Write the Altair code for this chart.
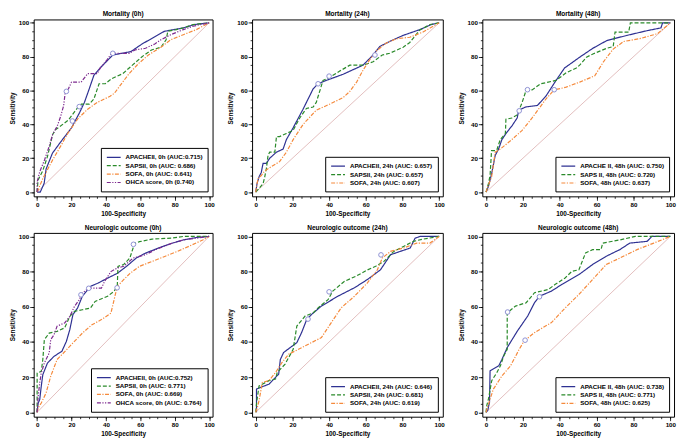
import altair as alt
import pandas as pd

# ---------------- data ----------------
diag_x = [0, 100]
diag_y = [0, 100]

# Mortality (0h)
m0_names = ["APACHEII, 0h (AUC:0.715)", "SAPSII, 0h (AUC: 0.686)",
            "SOFA, 0h (AUC: 0.641)", "OHCA score, 0h (0.740)"]
m0_apache_x = [0, 1.8, 4.1, 5.2, 8.9, 13.6, 20, 24.7, 27.5, 30.3, 33, 36.8, 44, 54.5, 61, 74, 85, 91.6, 100]
m0_apache_y = [0, 0, 5.2, 13.6, 23, 29.5, 38, 47, 53, 61, 69, 73.5, 81, 83, 87.5, 95, 97, 99, 100]
m0_saps_x = [0, 0.5, 3.3, 6, 9, 10.8, 13.6, 18.2, 22.9, 25.7, 30.3, 33, 36, 39.6, 43.3, 49.8, 55.4, 61, 66.5, 72, 75, 76, 81, 85, 90.7, 100]
m0_saps_y = [0, 7, 12.7, 21, 34, 37, 39, 42.6, 49, 52, 52, 55, 64, 64, 67, 70, 75, 80, 84, 85.6, 90, 95, 96, 97, 99, 100]
m0_sofa_x = [0, 3.3, 9, 13.6, 18, 23.8, 29.4, 35, 42.4, 45, 49, 53.5, 59, 64.7, 72, 77.7, 85, 92.6, 100]
m0_sofa_y = [0, 8, 19, 27, 35, 43.5, 49, 53, 56.6, 58.5, 64, 70, 76, 81, 85.6, 90, 93, 96, 100]
m0_ohca_x = [0, 0, 1.5, 4.3, 7, 9, 11.7, 13.6, 15.4, 16.4, 18.2, 20, 25.6, 29.4, 35, 36.8, 40.5, 43.3, 53.5, 57, 63, 68.4, 72, 77.7, 85, 90.7, 100]
m0_ohca_y = [0, 6, 12, 19, 27, 34, 39, 44.5, 51, 59.4, 61, 65, 65, 70, 70, 73.5, 78, 82, 82, 84, 85, 87.5, 90, 93, 96, 98, 100]
m0_cut_x = [44, 24.5, 20.5, 17]
m0_cut_y = [82, 50.5, 42, 59.5]

# Mortality (24h)
m24_names = ["APACHEII, 24h (AUC: 0.657)", "SAPSII, 24h (AUC: 0.657)", "SOFA, 24h (AUC: 0.607)"]
m24_apache_x = [0, 0.7, 1.8, 3, 4, 5.8, 7.6, 11.3, 14.9, 16.7, 20.4, 25.8, 31.3, 34, 38.5, 47.6, 58.5, 64, 67.6, 73, 80.4, 89.5, 95.8, 100]
m24_apache_y = [0, 5, 9, 11.6, 17, 17, 20, 23.6, 25.4, 31, 38, 49, 61, 64, 66, 69.6, 75, 81, 86, 89, 92.6, 96, 99, 100]
m24_saps_x = [0, 2, 4, 4.9, 5.8, 6.7, 7.6, 10.4, 11.3, 13, 16.7, 20.4, 24, 27.6, 31.3, 33, 36.7, 40.4, 45.8, 51.3, 58.5, 64, 69, 73, 80.4, 84, 89.5, 95, 100]
m24_saps_y = [0, 2.4, 5, 9, 14, 21.7, 23.6, 23.6, 32.8, 32.8, 34.6, 36.5, 43.8, 49.4, 50.3, 53, 66, 67.8, 71.5, 75, 75, 77, 81, 82, 85.6, 88.4, 95.8, 99, 100]
m24_sofa_x = [0, 0.7, 1.3, 3, 4.9, 7.6, 13, 16.7, 20.4, 25.8, 33, 40.4, 47.6, 51.3, 55, 58.5, 62, 65.8, 71, 76.7, 84, 91, 100]
m24_sofa_y = [0, 5, 8, 9.8, 12.5, 14.4, 18, 23.6, 31, 40, 48.4, 52, 55.8, 59.5, 65, 72, 78, 83.4, 88, 90.6, 91.5, 94.5, 100]
m24_cut_x = [34, 40, 65]
m24_cut_y = [64, 68.5, 81]

# Mortality (48h)
m48_names = ["APACHE II, 48h (AUC: 0.750)", "SAPS II, 48h (AUC: 0.720)", "SOFA, 48h (AUC: 0.637)"]
m48_apache_x = [0, 1.3, 3, 5, 6.8, 8.6, 11.4, 14, 16.9, 17.8, 21.5, 27.9, 32.5, 38, 42.6, 50.8, 58, 65.5, 76.5, 87.5, 94.9, 95.8, 100]
m48_apache_y = [0, 3.3, 10.7, 21.7, 25.4, 31, 35.5, 39, 43.8, 48.4, 50.3, 51.2, 56.7, 66, 73.3, 79.7, 85, 89.5, 92.6, 95.4, 97, 100, 100]
m48_saps_x = [0, 1.3, 2.2, 3, 5, 5.9, 7.7, 10.5, 10.8, 14, 16.9, 19.6, 21.8, 25, 29.7, 38, 43.5, 49, 50.8, 54.5, 58, 65.5, 69, 70, 77.4, 78.3, 100]
m48_saps_y = [0, 5, 9.8, 24.5, 24.5, 25, 31, 34.6, 43, 43.8, 45.6, 53, 60.4, 60.4, 64, 66, 70.5, 73.3, 75, 79.7, 81.6, 85, 86, 94.5, 94.5, 100, 100]
m48_sofa_x = [0, 1.3, 3, 5, 7.7, 14, 19.6, 25, 32.5, 37, 43.5, 50.8, 59, 63.7, 69, 74.7, 84, 93, 100]
m48_sofa_y = [0, 4.2, 8.8, 23.6, 25.4, 31, 36.5, 43.8, 55, 60.4, 62, 65, 68.7, 77, 84.5, 89, 90.8, 93.6, 100]
m48_cut_x = [18, 22.5, 37]
m48_cut_y = [48, 60.5, 60.5]

# Neurologic outcome (0h)
n0_names = ["APACHEII, 0h (AUC:0.752)", "SAPSII, 0h (AUC: 0.771)",
            "SOFA, 0h (AUC: 0.669)", "OHCA score, 0h (AUC: 0.764)"]
n0_apache_x = [0, 0.6, 1.5, 2.4, 3.3, 6, 9.8, 14.4, 17, 19, 20.8, 23.5, 26.3, 31, 35.5, 41, 46.6, 52, 57.6, 63, 70.5, 78, 85, 92.6, 100]
n0_apache_y = [0, 5.3, 7.2, 14.8, 21.4, 28, 31.8, 34.7, 40.3, 47, 55.5, 59.3, 66, 71.6, 73.5, 76.3, 79, 83, 87.7, 90.5, 93.4, 96, 98, 99.4, 100]
n0_saps_x = [0, 0, 2.4, 3.3, 4.2, 7, 11.6, 16, 19, 21.7, 26.3, 31, 33.7, 41, 44.7, 46.6, 47, 50.3, 53.9, 55.8, 56.7, 59.5, 66.8, 78, 85, 100]
n0_saps_y = [0, 22.3, 23.3, 30, 41.3, 45, 46, 48, 54.5, 57.4, 58.3, 59.3, 63, 66, 68.8, 71.6, 83, 84, 87.7, 93.4, 96, 97, 98.5, 99, 100, 100]
n0_sofa_x = [0, 0.6, 2.4, 5.2, 7.9, 11.6, 15.3, 20.8, 26.3, 31.9, 37.4, 42.9, 46.6, 50.3, 54, 59.5, 66.9, 74.2, 81.6, 89, 96.3, 100]
n0_sofa_y = [0, 2.5, 5.3, 11, 20.5, 30, 33.7, 39.4, 45, 49.8, 52.7, 56.4, 71.6, 75.4, 79, 83, 85.8, 88.6, 91.5, 94.7, 98, 100]
n0_ohca_x = [0, 0.6, 1.5, 2.4, 4.2, 7, 7.9, 9.8, 11.6, 16, 19, 21.7, 24.5, 26.3, 30, 37.4, 39.2, 42.9, 46.6, 50.3, 55.8, 63, 68.7, 78, 85, 100]
n0_ohca_y = [0, 9, 16.7, 22.3, 28, 33.7, 41.3, 44, 49, 50.8, 54.5, 60.2, 64, 67.8, 70.6, 70.6, 74.4, 80, 82, 83, 87.7, 89.6, 92.4, 96, 98, 100]
n0_cut_x = [30, 56, 46.5, 25.5]
n0_cut_y = [70.5, 95.5, 70.8, 66.8]

# Neurologic outcome (24h)
n24_names = ["APACHEII, 24h (AUC: 0.646)", "SAPSII, 24h (AUC: 0.681)", "SOFA, 24h (AUC: 0.619)"]
n24_apache_x = [0.4, 0.4, 2.7, 7.2, 9.9, 12.5, 13.4, 15.2, 18.8, 22.4, 25, 27.8, 30.5, 35.8, 44.8, 53.8, 60.9, 68, 73.5, 84.2, 86.9, 89.6, 100]
n24_apache_y = [0, 13.2, 14.2, 16, 18.9, 21.7, 30, 34, 36.8, 39.6, 45.3, 52.8, 55.7, 60.4, 66, 70.8, 75.5, 81, 89.6, 93.4, 99, 100, 100]
n24_saps_x = [0, 0.5, 1.8, 5.4, 7.2, 10.8, 11.7, 16, 20.4, 22.4, 26.9, 31.4, 34, 39.4, 42, 48.4, 54.7, 61, 65.4, 69.9, 75.3, 80.6, 86, 91.4, 100]
n24_saps_y = [0, 5.7, 15, 17, 18, 18.9, 22.6, 27.4, 35.8, 49, 54.7, 56.6, 59.4, 64, 68.9, 74.5, 77.4, 81, 83, 85.8, 91.5, 94.3, 97.2, 98.5, 100]
n24_sofa_x = [0, 0.9, 1.8, 3.6, 7.2, 10.8, 14.3, 17.9, 23.3, 28.7, 35.8, 41.2, 46.6, 53.8, 60.9, 66.3, 69, 73.5, 80.6, 87.8, 95, 100]
n24_sofa_y = [0, 2.8, 6.6, 17, 18, 22.6, 28.3, 33, 35.8, 38.7, 42.5, 51, 59.4, 66, 73.6, 81, 87.7, 91.5, 93.4, 96.2, 96.2, 100]
n24_cut_x = [28.5, 40, 68.3]
n24_cut_y = [53, 68.5, 89.5]

# Neurologic outcome (48h)
n48_names = ["APACHE II, 48h (AUC: 0.738)", "SAPS II, 48h (AUC: 0.771)", "SOFA, 48h (AUC: 0.625)"]
n48_apache_x = [0, 0.9, 1.9, 2.2, 6.9, 8.7, 11.5, 17, 22.6, 26.3, 29, 35.5, 41, 50.4, 57.8, 65.2, 72.6, 78, 87.4, 90, 100]
n48_apache_y = [0, 1, 5.7, 23.6, 26.4, 30.2, 36.8, 46.2, 54.7, 62.3, 66, 68.9, 72.6, 78.3, 84, 88.7, 92.5, 96.2, 97.2, 100, 100]
n48_saps_x = [0, 0.4, 1.3, 3.1, 5.9, 7.8, 9.6, 11.5, 11.5, 16, 21.8, 26.3, 33.7, 37.4, 42.9, 46.6, 50.4, 54, 57.8, 62.4, 63.3, 72.6, 81, 100]
n48_saps_y = [0, 3.8, 7.5, 18, 22.6, 26.4, 32, 35.8, 56.6, 60.4, 62.3, 68, 69.8, 72.6, 76.4, 80.2, 81, 90.6, 92.5, 92.5, 96.2, 98, 100, 100]
n48_sofa_x = [0, 2.2, 4, 8.7, 13.3, 18, 20.7, 26.3, 35.5, 43, 50.4, 57.8, 65.2, 72.6, 81.9, 91, 100]
n48_sofa_y = [0, 7.5, 13.2, 20.8, 26.4, 35.8, 40.6, 45.3, 51, 59.4, 67, 75.5, 84, 87.7, 92.5, 96.2, 100]
n48_cut_x = [29, 11.7, 21.2]
n48_cut_y = [65.7, 57, 41]

# ---------------- styling ----------------
FONT = "Liberation Sans"
COLORS = ["#2e3192", "#2a8a2a", "#f58a3c", "#7d2a8f"]
DASHES = [[1, 0], [4, 2], [4, 1.5, 1.2, 1.5], [4, 1.5, 1.2, 1.5, 1.2, 1.5]]
MAJOR = [0, 20, 40, 60, 80, 100]
MINOR = list(range(0, 101, 5))


def panel(title, names, xs, ys, cut_x, cut_y, width, height):
    rows = []
    for name, xv, yv in zip(names, xs, ys):
        for i, (a, b) in enumerate(zip(xv, yv)):
            rows.append({"series": name, "x": a, "y": b, "i": i})
    df = pd.DataFrame(rows)
    n = len(names)
    xsc = alt.Scale(domain=[-2, 102], nice=False, zero=False)
    ysc = alt.Scale(domain=[-2.5, 102], nice=False, zero=False)

    diag = alt.Chart(pd.DataFrame({"x": diag_x, "y": diag_y})).mark_line(
        color="#dcaeae", strokeWidth=0.8
    ).encode(
        x=alt.X("x:Q", scale=xsc, axis=alt.Axis(values=MINOR, labels=False, title=None,
                                                 tickSize=2, orient="bottom")),
        y=alt.Y("y:Q", scale=ysc, axis=alt.Axis(values=MINOR, labels=False, title=None,
                                                 tickSize=2, orient="left")),
    )
    lines = alt.Chart(df).mark_line(strokeWidth=1.2).encode(
        x=alt.X("x:Q", scale=xsc, axis=alt.Axis(values=MAJOR, title="100-Specificity",
                                                 orient="bottom")),
        y=alt.Y("y:Q", scale=ysc, axis=alt.Axis(values=MAJOR, title="Sensitivity",
                                                 orient="left")),
        color=alt.Color("series:N", scale=alt.Scale(domain=names, range=COLORS[:n]),
                        legend=alt.Legend(title=None, orient="bottom-right")),
        strokeDash=alt.StrokeDash("series:N", scale=alt.Scale(domain=names, range=DASHES[:n]),
                                  legend=alt.Legend(title=None, orient="bottom-right")),
        order=alt.Order("i:Q"),
    )
    pts = alt.Chart(pd.DataFrame({"x": cut_x, "y": cut_y})).mark_point(
        shape="circle", filled=True, fill="white", stroke="#8d90d2", strokeWidth=1,
        size=22, opacity=1
    ).encode(
        x=alt.X("x:Q", scale=xsc, axis=None),
        y=alt.Y("y:Q", scale=ysc, axis=None),
    )
    return alt.layer(diag, lines, pts).resolve_axis(
        x="independent", y="independent"
    ).properties(
        width=width, height=height,
        title=alt.TitleParams(title, frame="group", anchor="middle", offset=1.5,
                              fontSize=6.6, font=FONT, fontWeight="bold", color="black"),
    )


H1, H2 = 179, 186
W = [181, 193, 194]

p1 = panel("Mortality (0h)", m0_names,
           [m0_apache_x, m0_saps_x, m0_sofa_x, m0_ohca_x],
           [m0_apache_y, m0_saps_y, m0_sofa_y, m0_ohca_y], m0_cut_x, m0_cut_y, W[0], H1)
p2 = panel("Mortality (24h)", m24_names,
           [m24_apache_x, m24_saps_x, m24_sofa_x],
           [m24_apache_y, m24_saps_y, m24_sofa_y], m24_cut_x, m24_cut_y, W[1], H1)
p3 = panel("Mortality (48h)", m48_names,
           [m48_apache_x, m48_saps_x, m48_sofa_x],
           [m48_apache_y, m48_saps_y, m48_sofa_y], m48_cut_x, m48_cut_y, W[2], H1)
p4 = panel("Neurologic outcome (0h)", n0_names,
           [n0_apache_x, n0_saps_x, n0_sofa_x, n0_ohca_x],
           [n0_apache_y, n0_saps_y, n0_sofa_y, n0_ohca_y], n0_cut_x, n0_cut_y, W[0], H2)
p5 = panel("Neurologic outcome (24h)", n24_names,
           [n24_apache_x, n24_saps_x, n24_sofa_x],
           [n24_apache_y, n24_saps_y, n24_sofa_y], n24_cut_x, n24_cut_y, W[1], H2)
p6 = panel("Neurologic outcome (48h)", n48_names,
           [n48_apache_x, n48_saps_x, n48_sofa_x],
           [n48_apache_y, n48_saps_y, n48_sofa_y], n48_cut_x, n48_cut_y, W[2], H2)

row1 = alt.hconcat(p1, p2, p3, spacing=11).resolve_scale(color="independent", strokeDash="independent")
row2 = alt.hconcat(p4, p5, p6, spacing=11).resolve_scale(color="independent", strokeDash="independent")

chart = alt.vconcat(row1, row2, spacing=6).resolve_scale(
    color="independent", strokeDash="independent"
).properties(
    padding=0, background="white"
).configure_view(
    stroke="black", strokeWidth=1
).configure_axis(
    labelFont=FONT, labelFontSize=6.3, labelFontWeight="bold", labelColor="black",
    labelPadding=1, tickColor="black", tickSize=4, tickWidth=0.8, domain=False, grid=False,
    titleFont=FONT, titleFontSize=6.5, titleFontWeight="bold", titleColor="black",
    titlePadding=3,
).configure_legend(
    orient="bottom-right", offset=5, padding=5, strokeColor="black", fillColor="white",
    labelFont=FONT, labelFontSize=6.3, labelFontWeight="bold", labelColor="black",
    symbolType="M-1,0H3", symbolSize=49, symbolStrokeWidth=1.2,
    rowPadding=0.5, labelOffset=11, cornerRadius=0,
)

chart.save("out.html", embed_options={"renderer": "svg", "actions": False})
